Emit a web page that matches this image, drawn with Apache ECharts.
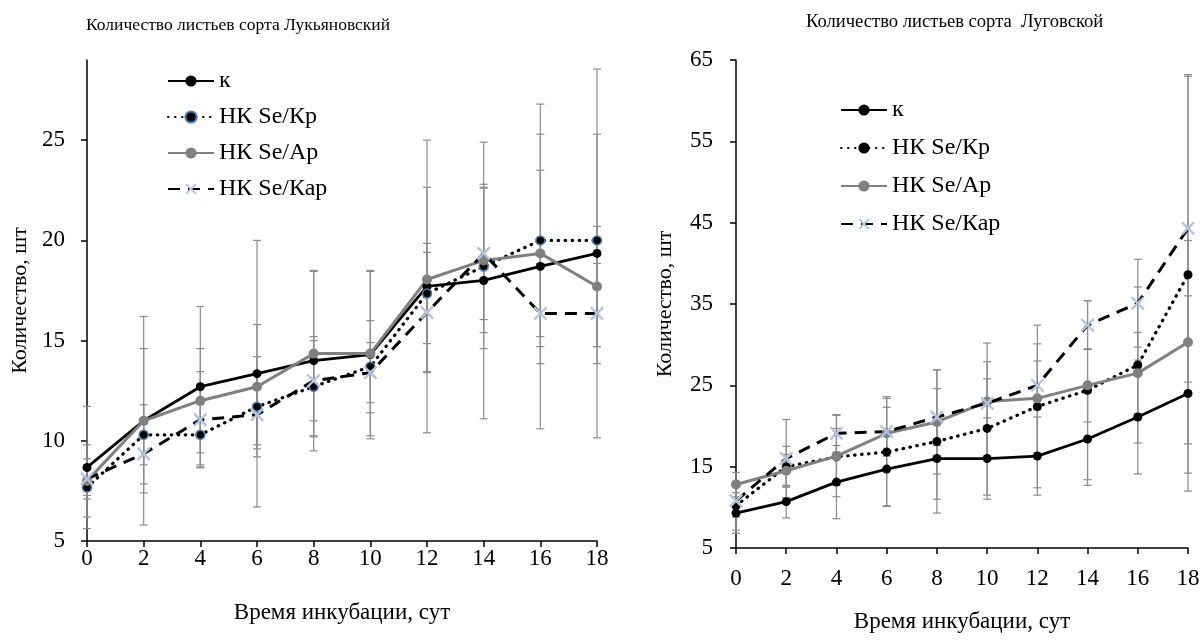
<!DOCTYPE html>
<html>
<head>
<meta charset="utf-8">
<script src="https://cdn.jsdelivr.net/npm/echarts@6/dist/echarts.min.js"></script>
<style>
  html, body { margin: 0; padding: 0; background: #ffffff; }
  #luk { position: absolute; left: 0; top: 0; width: 620px; height: 641px; }
  #lug { position: absolute; left: 620px; top: 0; width: 583px; height: 641px; }
</style>
</head>
<body>
<div id="luk"></div>
<div id="lug"></div>
<script>
// Incubation time, days
const days = [0, 2, 4, 6, 8, 10, 12, 14, 16, 18];
const seriesNames = ['к', 'НК Se/Кр', 'НК Se/Ар', 'НК Se/Кар'];

// Variety "Лукьяновский": mean leaf count and error
const lukK      = [8.67, 11.0, 12.7, 13.35, 14.0, 14.3, 17.7, 18.0, 18.7, 19.35];
const lukKp     = [7.67, 10.3, 10.3, 11.7, 12.7, 13.7, 17.35, 18.7, 20.0, 20.0];
const lukAp     = [8.0, 11.0, 12.0, 12.7, 14.35, 14.35, 18.05, 19.0, 19.35, 17.7];
const lukKap    = [8.1, 9.35, 11.05, 11.3, 13.0, 13.4, 16.4, 19.35, 16.35, 16.35];
const lukKErr   = [3.05, 5.2, 4.0, 6.65, 4.5, 4.2, 7.3, 6.9, 8.1, 9.2];
const lukKpErr  = [0.4, 1.5, 1.5, 2.5, 2.5, 2.3, 2.5, 4.1, 5.3, 5.3];
const lukApErr  = [1.8, 3.6, 2.6, 3.1, 4.1, 4.1, 4.6, 3.6, 4.15, 3.0];
const lukKapErr = [1.0, 1.5, 2.4, 1.5, 2.0, 1.5, 3.0, 3.3, 2.5, 2.5];
const lukTicks  = [5, 10, 15, 20, 25];

// Variety "Луговской": mean leaf count and error
const lugK      = [9.3, 10.7, 13.1, 14.7, 16.0, 16.0, 16.3, 18.4, 21.1, 24.0];
const lugKp     = [10.2, 15.0, 16.2, 16.8, 18.1, 19.7, 22.4, 24.4, 27.5, 38.6];
const lugAp     = [12.8, 14.5, 16.3, 19.1, 20.5, 23.0, 23.4, 25.0, 26.5, 30.3];
const lugKap    = [10.8, 16.0, 19.1, 19.3, 21.1, 22.8, 25.0, 32.4, 35.1, 44.3];
const lugKErr   = [2.5, 2.0, 4.5, 4.6, 5.0, 5.0, 4.8, 5.7, 7.0, 12.0];
const lugKpErr  = [3.0, 2.5, 3.5, 6.6, 8.8, 8.2, 10.0, 11.0, 9.6, 24.4];
const lugApErr  = [1.5, 2.0, 5.0, 4.5, 6.4, 7.2, 6.7, 4.5, 5.0, 12.5];
const lugKapErr = [2.0, 4.8, 2.3, 3.0, 3.5, 3.0, 3.0, 3.0, 5.4, 18.9];

const FONT = "'Liberation Serif', 'DejaVu Serif', serif";
const CROSS = 'path://M0,1.2L1.2,0L5,3.8L8.8,0L10,1.2L6.2,5L10,8.8L8.8,10L5,6.2L1.2,10L0,8.8L3.8,5Z';

function errorBars(means, errs) {
  return {
    type: 'custom',
    silent: true,
    z: 1,
    data: days.map((d, i) => [d, means[i] - errs[i], means[i] + errs[i]]),
    encode: { x: 0, y: [1, 2] },
    renderItem(params, api) {
      const x = api.value(0);
      const lo = api.coord([x, api.value(1)]);
      const hi = api.coord([x, api.value(2)]);
      const w = 4;
      const st = { stroke: '#8c8c8c', lineWidth: 1.2 };
      return {
        type: 'group',
        children: [
          { type: 'line', shape: { x1: lo[0], y1: lo[1], x2: hi[0], y2: hi[1] }, style: st },
          { type: 'line', shape: { x1: lo[0] - w, y1: lo[1], x2: lo[0] + w, y2: lo[1] }, style: st },
          { type: 'line', shape: { x1: hi[0] - w, y1: hi[1], x2: hi[0] + w, y2: hi[1] }, style: st }
        ]
      };
    }
  };
}

function lineSeries(name, values, style) {
  return Object.assign({
    name: name,
    type: 'line',
    z: 3,
    data: days.map((d, i) => [d, values[i]])
  }, style);
}

function buildSeries(k, kp, ap, kap, kpBorder) {
  return [
    lineSeries(seriesNames[0], k, {
      symbol: 'circle', symbolSize: 9,
      itemStyle: { color: '#000000' },
      lineStyle: { color: '#000000', width: 2.8 }
    }),
    lineSeries(seriesNames[1], kp, {
      symbol: 'circle', symbolSize: 9,
      itemStyle: { color: '#000000', borderColor: kpBorder, borderWidth: kpBorder ? 1.5 : 0 },
      lineStyle: { color: '#000000', width: 3.2, type: [0.5, 6.5], cap: 'round' }
    }),
    lineSeries(seriesNames[2], ap, {
      symbol: 'circle', symbolSize: 10,
      itemStyle: { color: '#808080' },
      lineStyle: { color: '#808080', width: 3 }
    }),
    lineSeries(seriesNames[3], kap, {
      symbol: CROSS, symbolSize: 14,
      itemStyle: { color: '#b4c3de' },
      lineStyle: { color: '#000000', width: 3, type: [12, 8] }
    })
  ];
}

function axisCommon(nameSize) {
  return {
    axisLine: { show: true, lineStyle: { color: '#000000', width: 1.5 } },
    axisTick: { show: true, inside: false, length: 6, lineStyle: { color: '#000000', width: 1.5 } },
    axisLabel: { color: '#000000', fontFamily: FONT, fontSize: 23 },
    splitLine: { show: false },
    nameTextStyle: { color: '#000000', fontFamily: FONT, fontSize: nameSize }
  };
}

function legendOpt(left, top, gap) {
  return {
    orient: 'vertical',
    left: left, top: top,
    itemWidth: 46, itemHeight: 14, itemGap: gap,
    data: seriesNames,
    textStyle: { color: '#000000', fontFamily: FONT, fontSize: 24 }
  };
}

// Left chart
const lukChart = echarts.init(document.getElementById('luk'));
const lukX = Object.assign(axisCommon(23), {
  type: 'value', min: 0, max: 18, interval: 2,
  name: 'Время инкубации, сут', nameLocation: 'middle', nameGap: 60
});
lukX.axisLabel = Object.assign({}, lukX.axisLabel, { margin: 6 });
const lukY = Object.assign(axisCommon(22), {
  type: 'value', min: 5, max: 29, interval: 5,
  name: 'Количество, шт', nameLocation: 'middle', nameGap: 54
});
lukY.axisLabel = Object.assign({}, lukY.axisLabel, { customValues: lukTicks, margin: 22 });
lukY.axisTick = Object.assign({}, lukY.axisTick, { customValues: lukTicks });
lukChart.setOption({
  animation: false,
  title: {
    text: 'Количество листьев сорта Лукьяновский',
    left: 81, top: 11,
    textStyle: { color: '#000000', fontFamily: FONT, fontSize: 17.5, fontWeight: 'normal' }
  },
  legend: legendOpt(162, 64, 12),
  grid: { left: 87, top: 60, width: 510, height: 481, containLabel: false },
  xAxis: lukX,
  yAxis: lukY,
  series: [
    errorBars(lukK, lukKErr), errorBars(lukKp, lukKpErr),
    errorBars(lukAp, lukApErr), errorBars(lukKap, lukKapErr)
  ].concat(buildSeries(lukK, lukKp, lukAp, lukKap, '#4a7ebb'))
});

// Right chart
const lugChart = echarts.init(document.getElementById('lug'));
const lugX = Object.assign(axisCommon(23), {
  type: 'value', min: 0, max: 18, interval: 2,
  name: 'Время инкубации, сут', nameLocation: 'middle', nameGap: 62
});
lugX.axisLabel = Object.assign({}, lugX.axisLabel, { margin: 19 });
const lugY = Object.assign(axisCommon(22), {
  type: 'value', min: 5, max: 65, interval: 10,
  name: 'Количество, шт', nameLocation: 'middle', nameGap: 60
});
lugY.axisLabel = Object.assign({}, lugY.axisLabel, { margin: 23 });
lugChart.setOption({
  animation: false,
  title: {
    text: 'Количество листьев сорта  Луговской',
    left: 181, top: 8,
    textStyle: { color: '#000000', fontFamily: FONT, fontSize: 18.6, fontWeight: 'normal' }
  },
  legend: legendOpt(215, 93, 14),
  grid: { left: 116, top: 60, width: 452, height: 488, containLabel: false },
  xAxis: lugX,
  yAxis: lugY,
  series: [
    errorBars(lugK, lugKErr), errorBars(lugKp, lugKpErr),
    errorBars(lugAp, lugApErr), errorBars(lugKap, lugKapErr)
  ].concat(buildSeries(lugK, lugKp, lugAp, lugKap, null))
});
</script>
</body>
</html>
